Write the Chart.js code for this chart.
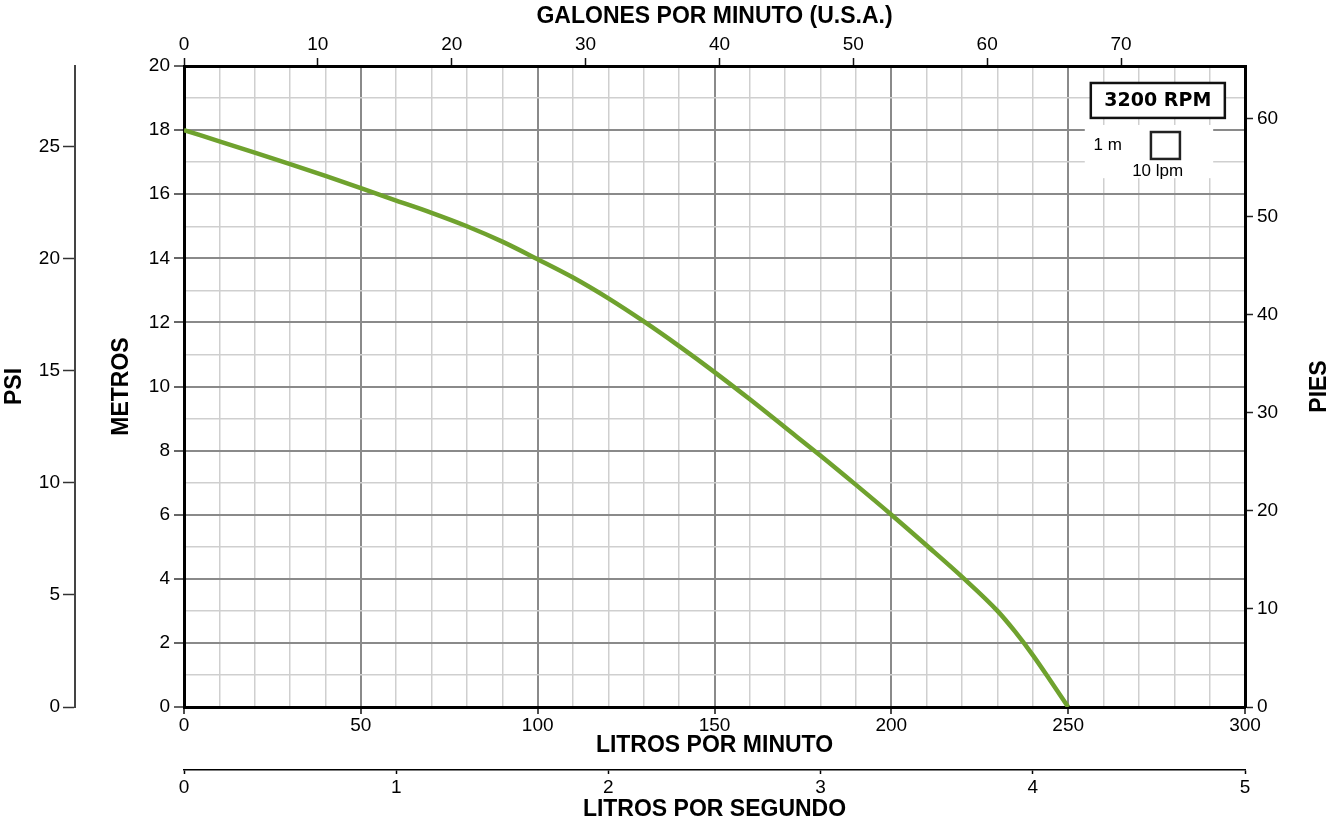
<!DOCTYPE html>
<html>
<head>
<meta charset="utf-8">
<script src="https://cdn.jsdelivr.net/npm/chart.js@4.4.0/dist/chart.umd.min.js"></script>
<style>
  html, body { margin: 0; padding: 0; background: #fff; }
</style>
</head>
<body>
<canvas id="curva" width="1336" height="823"></canvas>
<script>
// curva 3200 RPM: caudal (litros por minuto) vs altura (metros)
const lpm    = [0, 10, 20, 30, 40, 50, 60, 70, 80, 90, 100, 110, 120, 130, 140, 150, 160, 170, 180, 190, 200, 210, 220, 230, 235, 240, 245, 250];
const metros = [18, 17.65, 17.3, 16.94, 16.57, 16.19, 15.8, 15.42, 15.0, 14.52, 13.97, 13.4, 12.75, 12.03, 11.26, 10.45, 9.6, 8.72, 7.84, 6.93, 6.0, 5.04, 4.06, 3.0, 2.35, 1.62, 0.82, 0];

const lpmRange = [0, 300];
const metrosRange = [0, 20];
const gpmMax = 300 / 3.785;
const lpsMax = 5;
const piesMax = 65.4;
const psiMax = 28.6;

const FONT = '"Liberation Sans", Arial, sans-serif';
const tickFont = { family: FONT, size: 19 };
const titleFont = { family: FONT, size: 23, weight: 'bold' };
const MAJOR = '#8a8a8a';
const MINOR = '#cfcfcf';

function isMajor(v, step) { return Math.abs(v / step - Math.round(v / step)) < 1e-6; }

// recuadro "3200 RPM", escala de la cuadricula y titulo PIES
const legendBox = {
  id: 'legendBox',
  beforeDatasetsDraw(chart) {
    const { ctx, scales: { x, y } } = chart;
    ctx.save();
    ctx.fillStyle = '#fff';
    const l = x.getPixelForValue(254.7), r = x.getPixelForValue(291);
    const t = y.getPixelForValue(18.16), b = y.getPixelForValue(16.5);
    ctx.fillRect(l, t, r - l, b - t);
    ctx.restore();
  },
  afterDatasetsDraw(chart) {
    const { ctx, chartArea, scales: { x, y } } = chart;
    ctx.save();
    // caja RPM
    const l = x.getPixelForValue(256.4), r = x.getPixelForValue(294.3);
    const t = y.getPixelForValue(19.47), b = y.getPixelForValue(18.38);
    ctx.fillStyle = '#fff';
    ctx.fillRect(l, t, r - l, b - t);
    ctx.lineWidth = 2.5;
    ctx.strokeStyle = '#111';
    ctx.strokeRect(l, t, r - l, b - t);
    ctx.fillStyle = '#000';
    ctx.font = 'bold 19px "DejaVu Sans", sans-serif';
    ctx.textAlign = 'center';
    ctx.textBaseline = 'middle';
    ctx.fillText('3200 RPM', (l + r) / 2, (t + b) / 2 + 1);
    // cuadro de escala
    const sl = x.getPixelForValue(273.4), sr = x.getPixelForValue(281.6);
    const st = y.getPixelForValue(17.94), sb = y.getPixelForValue(17.1);
    ctx.lineWidth = 2.5;
    ctx.strokeStyle = '#222';
    ctx.strokeRect(sl, st, sr - sl, sb - st);
    ctx.font = '17px ' + FONT;
    ctx.fillText('1 m', x.getPixelForValue(261.2), y.getPixelForValue(17.53));
    ctx.fillText('10 lpm', x.getPixelForValue(275.3), y.getPixelForValue(16.7));
    // titulo eje derecho (girado como los de la izquierda)
    ctx.translate(chartArea.right + 75, (chartArea.top + chartArea.bottom) / 2);
    ctx.rotate(-Math.PI / 2);
    ctx.font = 'bold 23px ' + FONT;
    ctx.fillText('PIES', 0, 0);
    ctx.restore();
  }
};

new Chart(document.getElementById('curva'), {
  type: 'line',
  data: {
    datasets: [{
      data: lpm.map((q, i) => ({ x: q, y: metros[i] })),
      borderColor: '#6fa22e',
      borderWidth: 4.5,
      pointRadius: 0,
      cubicInterpolationMode: 'monotone',
      xAxisID: 'x',
      yAxisID: 'y',
    }],
  },
  options: {
    responsive: false,
    animation: false,
    layout: { padding: 0 },
    plugins: { legend: { display: false }, tooltip: { enabled: false } },
    scales: {
      x: {
        type: 'linear', position: 'bottom', min: lpmRange[0], max: lpmRange[1],
        afterFit: (s) => { s.height = 63; },
        border: { color: '#000', width: 3 },
        grid: {
          color: (c) => isMajor(c.tick.value, 50) ? MAJOR : MINOR,
          lineWidth: (c) => isMajor(c.tick.value, 50) ? 2 : 1.5,
          tickColor: (c) => isMajor(c.tick.value, 50) ? '#111' : 'rgba(0,0,0,0)',
          tickLength: 7, tickWidth: 1.5,
        },
        ticks: {
          stepSize: 10, autoSkip: false, maxRotation: 0, padding: 0,
          color: '#000', font: tickFont,
          callback: (v) => isMajor(v, 50) ? v : '',
        },
        title: { display: true, text: 'LITROS POR MINUTO', color: '#000', font: titleFont, padding: { top: 0, bottom: 11 } },
      },
      lps: {
        type: 'linear', position: 'bottom', min: 0, max: lpsMax,
        afterFit: (s) => { s.height = 53; },
        border: { color: '#000', width: 1.5 },
        grid: { drawOnChartArea: false, tickLength: 4, tickColor: '#000', tickWidth: 1.5 },
        ticks: { stepSize: 1, padding: 2, color: '#000', font: tickFont, maxRotation: 0 },
        title: { display: true, text: 'LITROS POR SEGUNDO', color: '#000', font: titleFont, padding: { top: 0, bottom: 0 } },
      },
      gpm: {
        type: 'linear', position: 'top', min: 0, max: gpmMax,
        afterFit: (s) => { s.height = 66; },
        border: { color: '#000', width: 3 },
        grid: { drawOnChartArea: false, tickLength: 8, tickColor: '#111', tickWidth: 1.5 },
        ticks: { stepSize: 10, includeBounds: false, padding: 2, color: '#000', font: tickFont, maxRotation: 0 },
        title: { display: true, text: 'GALONES POR MINUTO (U.S.A.)', color: '#000', font: titleFont, padding: { top: 3, bottom: 0 } },
      },
      y: {
        type: 'linear', position: 'left', min: metrosRange[0], max: metrosRange[1],
        afterFit: (s) => { s.width = 109; },
        border: { color: '#000', width: 3 },
        grid: {
          color: (c) => isMajor(c.tick.value, 2) ? MAJOR : MINOR,
          lineWidth: (c) => isMajor(c.tick.value, 2) ? 2 : 1.5,
          tickColor: (c) => isMajor(c.tick.value, 2) ? '#333' : 'rgba(0,0,0,0)',
          tickLength: 10, tickWidth: 1.5,
        },
        ticks: {
          stepSize: 1, autoSkip: false, padding: 4, color: '#000', font: tickFont,
          callback: (v) => isMajor(v, 2) ? v : '',
        },
        title: { display: true, text: 'METROS', color: '#000', font: titleFont, padding: { top: 33, bottom: 0 } },
      },
      psi: {
        type: 'linear', position: 'left', min: 0, max: psiMax,
        afterFit: (s) => { s.width = 75; },
        border: { color: '#444', width: 2 },
        grid: { drawOnChartArea: false, tickLength: 12, tickColor: '#333', tickWidth: 1.5 },
        ticks: { stepSize: 5, includeBounds: false, padding: 3, color: '#000', font: tickFont },
        title: { display: true, text: 'PSI', color: '#000', font: titleFont, padding: { top: 1, bottom: 0 } },
      },
      pies: {
        type: 'linear', position: 'right', min: 0, max: piesMax,
        afterFit: (s) => { s.width = 91; },
        border: { color: '#000', width: 3 },
        grid: { drawOnChartArea: false, tickLength: 8, tickColor: '#222', tickWidth: 1.5 },
        ticks: { stepSize: 10, includeBounds: false, padding: 4, color: '#000', font: tickFont },
        title: { display: false },
      },
    },
  },
  plugins: [legendBox],
});
</script>
</body>
</html>
